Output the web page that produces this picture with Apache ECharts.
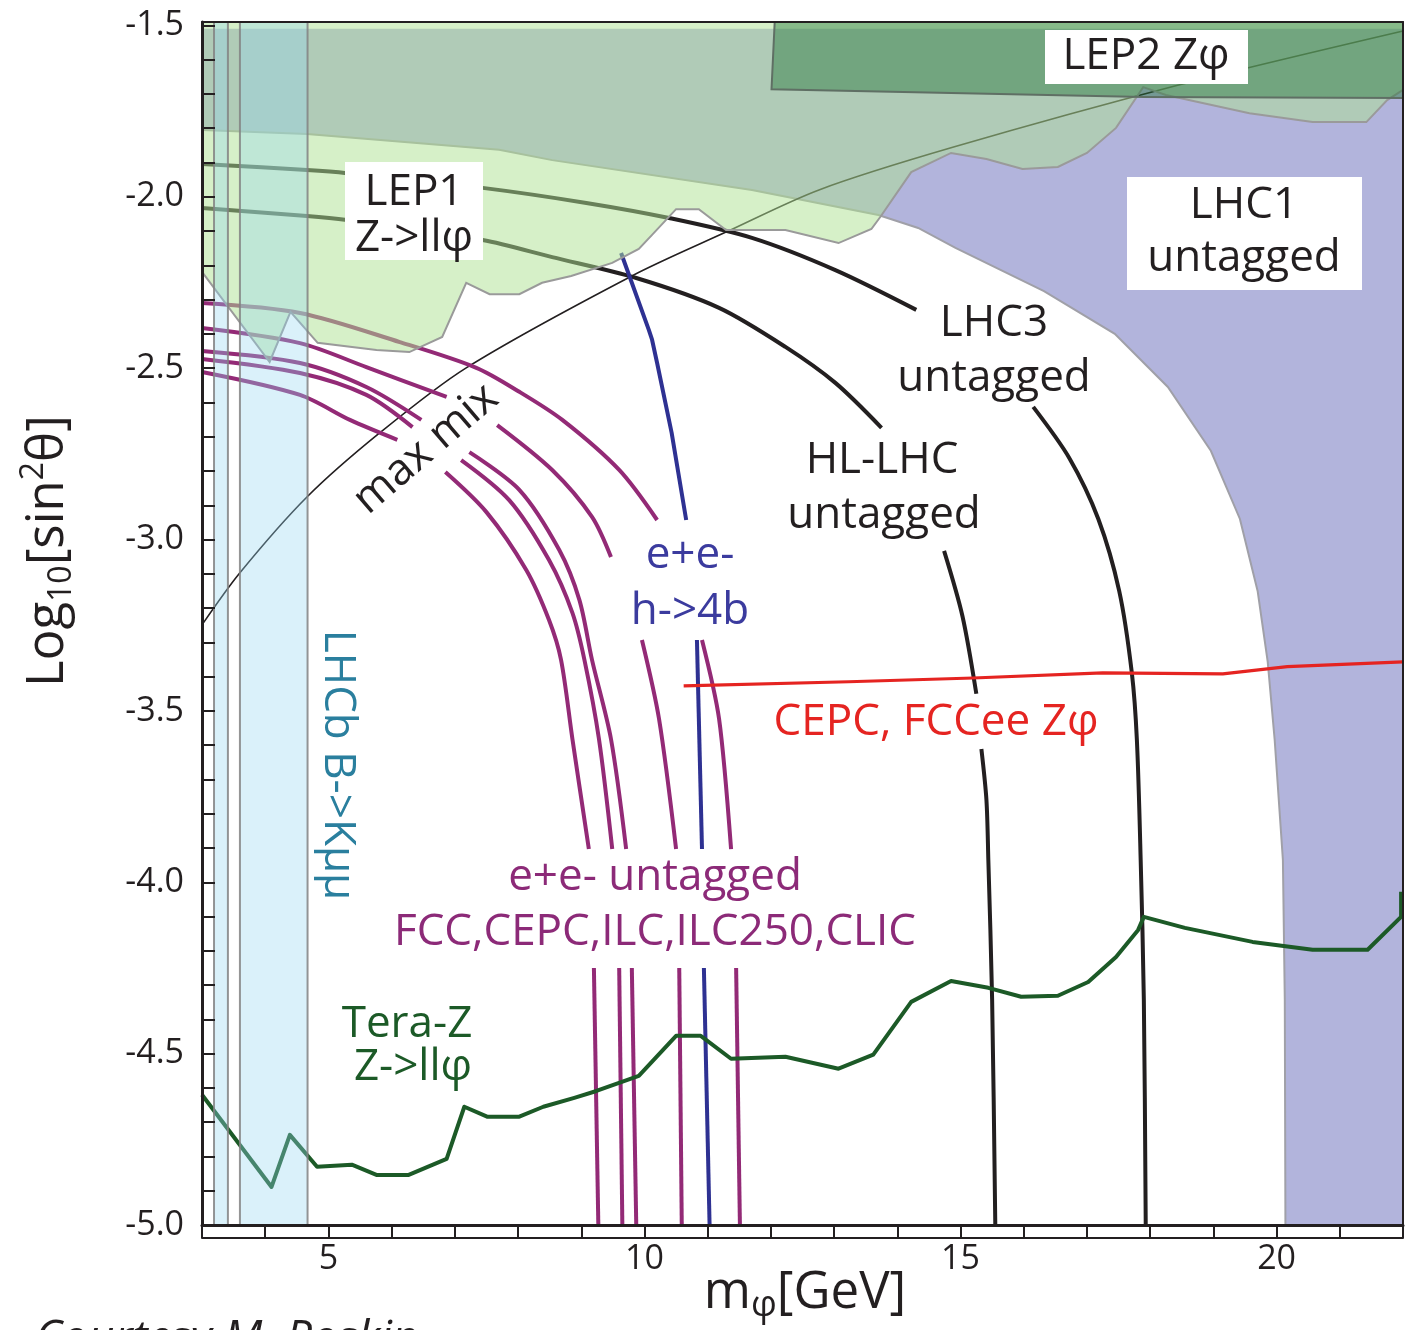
<!DOCTYPE html>
<html><head><meta charset="utf-8">
<script src="https://cdn.jsdelivr.net/npm/echarts@6/dist/echarts.min.js"></script>
<style>html,body{margin:0;padding:0;background:#fff}#c{width:1406px;height:1330px}</style>
</head><body><div id="c"></div>
<script>
// ---------------- data (x = m_phi [GeV], y = log10 sin^2 theta) ----------------
const xLabelTicks = [5, 10, 15, 20];
const yLabelTicks = [-1.5, -2.0, -2.5, -3.0, -3.5, -4.0, -4.5, -5.0];
const xMin = 3, xMax = 22, yMin = -5, yMax = -1.49;

// LHC1 untagged excluded region (lower-left boundary)
const lhc1Edge = [[3.00,-1.805],[4.66,-1.817],[7.70,-1.863],[8.54,-1.893],[11.70,-1.980],[13.70,-2.053],[14.33,-2.091],[14.92,-2.149],[16.32,-2.275],[17.44,-2.400],[18.28,-2.555],[18.96,-2.741],[19.42,-2.940],[19.70,-3.150],[19.86,-3.357],[19.97,-3.585],[20.10,-3.935],[20.13,-4.343],[20.14,-5.0]];
const lhc1Top = -1.51;
// LEP1 Z->ll phi excluded region (lower boundary)
const lep1Edge = [[3.00,-2.219],[4.07,-2.482],[4.40,-2.336],[4.83,-2.426],[5.76,-2.447],[6.28,-2.453],[6.80,-2.409],[7.18,-2.251],[7.55,-2.284],[8.02,-2.284],[8.38,-2.251],[8.84,-2.231],[9.49,-2.193],[9.91,-2.152],[10.12,-2.111],[10.50,-2.036],[10.86,-2.036],[11.29,-2.097],[12.23,-2.097],[13.07,-2.135],[13.59,-2.094],[13.73,-2.059],[14.22,-1.928],[14.85,-1.872],[15.41,-1.890],[15.98,-1.919],[16.54,-1.913],[17.00,-1.872],[17.46,-1.799],[17.89,-1.680],[18.25,-1.703],[19.57,-1.756],[20.57,-1.782],[21.42,-1.782],[21.75,-1.718],[22.00,-1.688]];
// LEP2 Z phi excluded region
const lep2Edge = [[12.06,-1.49],[12.01,-1.686],[17.90,-1.709],[22.00,-1.712]];
// LHCb B->K mu mu bands (mass ranges)
const lhcbBands = [[3.19,3.41],[3.60,4.67]];

// projections (segments separated where labels sit)
const lhc3Curve = [
  [[3.00,-1.904],[4.66,-1.922],[5.29,-1.931],[7.44,-1.974],[9.08,-2.018],[10.39,-2.062],[11.70,-2.120],[13.02,-2.214],[14.30,-2.330]],
  [[16.15,-2.613],[16.72,-2.762],[17.18,-2.940],[17.51,-3.150],[17.71,-3.389],[17.79,-3.585],[17.85,-3.935],[17.90,-4.343],[17.93,-5.0]]
];
const hlLhcCurve = [
  [[3.00,-2.033],[4.66,-2.056],[5.29,-2.068],[7.44,-2.126],[8.54,-2.176],[9.87,-2.237],[11.18,-2.324],[12.23,-2.438],[13.02,-2.543],[13.75,-2.674]],
  [[14.74,-3.033],[15.03,-3.223],[15.25,-3.450]],
  [[15.33,-3.611],[15.41,-3.760],[15.44,-3.935],[15.50,-4.343],[15.55,-5.0]]
];
const maxMix = [[3.00,-3.249],[3.60,-3.097],[4.66,-2.876],[5.81,-2.689],[7.18,-2.499],[9.80,-2.231],[11.29,-2.103],[12.76,-1.980],[14.89,-1.855],[18.45,-1.674],[22.0,-1.516]];
const h4bCurve = [
  [[9.63,-2.164],[10.07,-2.389],[10.12,-2.417],[10.20,-2.485],[10.43,-2.689],[10.66,-2.943]],
  [[10.83,-3.293],[10.91,-3.903]],
  [[10.94,-4.250],[11.03,-5.0]]
];
const cepcZphi = [[10.62,-3.427],[13.23,-3.415],[15.20,-3.404],[17.25,-3.389],[19.15,-3.392],[20.17,-3.371],[22.0,-3.357]];
const teraZ = [[3.00,-4.620],[4.10,-4.889],[4.39,-4.737],[4.82,-4.830],[5.37,-4.824],[5.76,-4.854],[6.27,-4.854],[6.87,-4.807],[7.15,-4.655],[7.51,-4.684],[8.02,-4.684],[8.40,-4.655],[8.89,-4.629],[9.24,-4.609],[9.91,-4.565],[10.50,-4.448],[10.89,-4.448],[11.37,-4.515],[12.23,-4.509],[13.07,-4.544],[13.62,-4.503],[14.22,-4.349],[14.85,-4.288],[15.44,-4.308],[15.96,-4.334],[16.54,-4.331],[17.02,-4.291],[17.46,-4.218],[17.81,-4.139],[17.90,-4.101],[18.55,-4.133],[19.62,-4.174],[20.57,-4.197],[21.44,-4.197],[21.97,-4.101],[21.97,-4.028]];
// e+e- untagged: FCC, CEPC, ILC, ILC250, CLIC
const eeA = [[[3.00,-2.310],[4.55,-2.339],[6.13,-2.424],[7.34,-2.499],[8.02,-2.569],[8.70,-2.651],[9.60,-2.797],[10.20,-2.943]],[[10.91,-3.293],[11.18,-3.523],[11.37,-3.903]],[[11.45,-4.250],[11.51,-5.0]]];
const eeB = [[[3.00,-2.383],[4.55,-2.427],[5.60,-2.497],[6.87,-2.584]],[[7.67,-2.666],[8.54,-2.797],[9.17,-2.934],[9.47,-3.051]],[[9.96,-3.293],[10.23,-3.523],[10.50,-3.903]],[[10.55,-4.250],[10.59,-5.0]]];
const eeC = [[[3.00,-2.450],[4.55,-2.485],[5.60,-2.555],[6.47,-2.651]],[[7.23,-2.745],[8.02,-2.855],[8.65,-3.030],[8.97,-3.176],[9.17,-3.351],[9.47,-3.582],[9.71,-3.903]],[[9.80,-4.250],[9.87,-5.0]]];
const eeD = [[[3.00,-2.473],[4.55,-2.514],[5.60,-2.578],[6.33,-2.672]],[[7.10,-2.768],[7.86,-2.885],[8.49,-3.060],[8.86,-3.214],[9.05,-3.351],[9.28,-3.582],[9.49,-3.903]],[[9.60,-4.250],[9.65,-5.0]]];
const eeE = [[[3.00,-2.511],[4.55,-2.578],[5.34,-2.651],[6.09,-2.709]],[[6.85,-2.803],[7.50,-2.920],[8.13,-3.089],[8.49,-3.235],[8.68,-3.351],[8.86,-3.582],[9.12,-3.903]],[[9.20,-4.250],[9.27,-5.0]]];

// ---------------- styling ----------------
const FONT = '"Open Sans","Noto Sans",sans-serif';
const BLACK = '#231f20', PURPLE = '#932a76', BLUE = '#2e3192', RED = '#e52421', DKGREEN = '#1c5a27';

function region(fillPts, edgePts, fill, stroke, lw, z) {
  return {
    type: 'custom', coordinateSystem: 'cartesian2d', data: [[xMin, yMin]], z: z, silent: true, animation: false,
    renderItem: function (p, api) {
      const ch = [{type: 'polygon', shape: {points: fillPts.map(q => api.coord(q))}, style: {fill: fill}}];
      if (edgePts) ch.push({type: 'polyline', shape: {points: edgePts.map(q => api.coord(q))}, style: {stroke: stroke, lineWidth: lw, fill: null}});
      return {type: 'group', children: ch};
    }
  };
}
function lines(segs, color, width, z, smooth) {
  return segs.map(s => ({type: 'line', data: s, showSymbol: false, symbol: 'none', smooth: smooth, silent: true, animation: false,
    lineStyle: {color: color, width: width, cap: 'butt', join: 'round'}, z: z}));
}

const series = [];
// LHC1 (purple)
series.push(region(lhc1Edge.concat([[xMax, yMin], [xMax, lhc1Top], [xMin, lhc1Top]]), lhc1Edge, 'rgb(178,180,220)', '#a0a0a8', 2, 1));
// lines below the translucent regions
series.push(...lines([maxMix], BLACK, 1.6, 3, 0.3));
series.push(...lines(lhc3Curve, BLACK, 4, 3, 0.3));
series.push(...lines(hlLhcCurve, BLACK, 4, 3, 0.3));
[eeA, eeB, eeC, eeD, eeE].forEach(c => series.push(...lines(c, PURPLE, 4, 3, 0.3)));
series.push(...lines(h4bCurve, BLUE, 4, 3, false));
series.push(...lines([cepcZphi], RED, 3.2, 3, false));
series.push(...lines([teraZ], DKGREEN, 4, 3, false));
// LEP1 (light green, translucent)
series.push(region([[xMin, yMax]].concat(lep1Edge, [[xMax, yMax]]), lep1Edge, 'rgba(173,225,145,0.5)', '#9a9a9a', 2, 4));
// LEP2 (dark green, translucent)
series.push(region(lep2Edge.concat([[xMax, yMax]]), lep2Edge, 'rgba(40,120,60,0.45)', '#5f6f64', 2, 5));
// LHCb bands
lhcbBands.forEach(b => {
  const r = [[b[0], yMin], [b[0], yMax], [b[1], yMax], [b[1], yMin]];
  series.push(region(r, null, 'rgba(150,215,240,0.35)', null, 0, 6));
  series.push(...lines([[[b[0], yMin], [b[0], yMax]], [[b[1], yMin], [b[1], yMax]]], 'rgba(130,130,130,0.85)', 2, 6, false));
});

function isOnTick(v, list) { return list.some(t => Math.abs(t - v) < 1e-6); }

const T = (text, x, y, size, color, extra) => Object.assign({
  type: 'text', x: x, y: y, z: 101, silent: true,
  style: Object.assign({text: text, fontSize: size, fontFamily: FONT, fill: color, textAlign: 'center', textVerticalAlign: 'middle'}, extra || {})
}, {});
const R = (x, y, w, h) => ({type: 'rect', shape: {x: x, y: y, width: w, height: h}, style: {fill: '#fff'}, z: 100, silent: true});

const graphics = [
  R(345, 162, 138, 98), R(1045, 30, 203, 54), R(1127, 177, 235, 113),
  T('LEP1', 414, 192, 44, BLACK), T('Z->llφ', 414, 238, 44, BLACK),
  T('LEP2 Zφ', 1146, 56, 44, BLACK),
  T('LHC1', 1244, 205, 44, BLACK), T('untagged', 1244, 258, 44, BLACK),
  T('LHC3', 994, 323, 44, BLACK), T('untagged', 994, 378, 44, BLACK),
  T('HL-LHC', 882, 460, 44, BLACK), T('untagged', 884, 515, 44, BLACK),
  T('e+e-', 690, 555, 44, '#3b3b9e'), T('h->4b', 690, 611, 44, '#3b3b9e'),
  T('e+e- untagged', 655, 877, 44, '#8c2a78'), T('FCC,CEPC,ILC,ILC250,CLIC', 655, 932, 44, '#8c2a78'),
  T('CEPC, FCCee Zφ', 936, 722, 44, RED),
  T('Tera-Z', 407, 1024, 44, DKGREEN), T('Z->llφ', 413, 1067, 44, DKGREEN),
  Object.assign(T('max mix', 426, 449, 44, BLACK), {rotation: 0.71}),
  Object.assign(T('LHCb B->Kμμ', 338, 765, 44, '#2a7f9e'), {rotation: -Math.PI / 2}),
  {type: 'text', x: 48, y: 551, rotation: Math.PI / 2, z: 101, silent: true,
   style: {text: '{a|Log}{s|10}{a|[sin}{p|2}{a|θ]}', textAlign: 'center', textVerticalAlign: 'middle',
     rich: {a: {fontSize: 51, fontFamily: FONT, fill: BLACK, lineHeight: 60},
            s: {fontSize: 32, fontFamily: FONT, fill: BLACK, lineHeight: 32, verticalAlign: 'bottom'},
            p: {fontSize: 32, fontFamily: FONT, fill: BLACK, lineHeight: 32, verticalAlign: 'top'}}}},
  {type: 'text', x: 805, y: 1293, z: 101, silent: true,
   style: {text: '{a|m}{s|φ}{a|[GeV]}', textAlign: 'center', textVerticalAlign: 'middle',
     rich: {a: {fontSize: 51, fontFamily: FONT, fill: BLACK, lineHeight: 62},
            s: {fontSize: 36, fontFamily: FONT, fill: BLACK, lineHeight: 38, verticalAlign: 'bottom'}}}},
  {type: 'text', x: 35, y: 1340, z: 101, silent: true,
   style: {text: 'Courtesy M. Roskin', fontSize: 46, fontStyle: 'italic', fontFamily: FONT, fill: BLACK, textAlign: 'left', textVerticalAlign: 'middle'}}
];

const axisBase = {type: 'value', splitLine: {show: false}, z: 50};
const option = {
  animation: false,
  backgroundColor: '#fff',
  grid: {left: 202, right: 1, top: 22, bottom: 105},
  xAxis: [
    Object.assign({}, axisBase, {min: xMin, max: xMax, interval: 1, position: 'bottom',
      axisLine: {lineStyle: {color: BLACK, width: 3}},
      axisTick: {inside: false, length: 13, lineStyle: {color: BLACK, width: 2}},
      axisLabel: {formatter: v => isOnTick(v, xLabelTicks) ? String(Math.round(v)) : '', fontSize: 34, fontFamily: FONT, color: BLACK, margin: 17}}),
    Object.assign({}, axisBase, {min: xMin, max: xMax, position: 'bottom', offset: 13,
      axisLine: {lineStyle: {color: BLACK, width: 2}}, axisTick: {show: false}, axisLabel: {show: false}}),
    Object.assign({}, axisBase, {min: xMin, max: xMax, position: 'top',
      axisLine: {lineStyle: {color: BLACK, width: 2}}, axisTick: {show: false}, axisLabel: {show: false}})
  ],
  yAxis: [
    Object.assign({}, axisBase, {min: yMin, max: yMax, interval: 0.1, position: 'left',
      axisLine: {show: true, lineStyle: {color: BLACK, width: 3}},
      axisTick: {inside: true, length: 13, lineStyle: {color: BLACK, width: 2}},
      axisLabel: {showMaxLabel: false, formatter: v => isOnTick(v, yLabelTicks) ? v.toFixed(1) : '', fontSize: 34, fontFamily: FONT, color: BLACK, margin: 18}}),
    Object.assign({}, axisBase, {min: yMin, max: yMax, position: 'right',
      axisLine: {show: true, lineStyle: {color: BLACK, width: 2}}, axisTick: {show: false}, axisLabel: {show: false}})
  ],
  series: series,
  graphic: graphics
};
const chart = echarts.init(document.getElementById('c'), null, {renderer: 'canvas'});
chart.setOption(option);
</script>
</body></html>
